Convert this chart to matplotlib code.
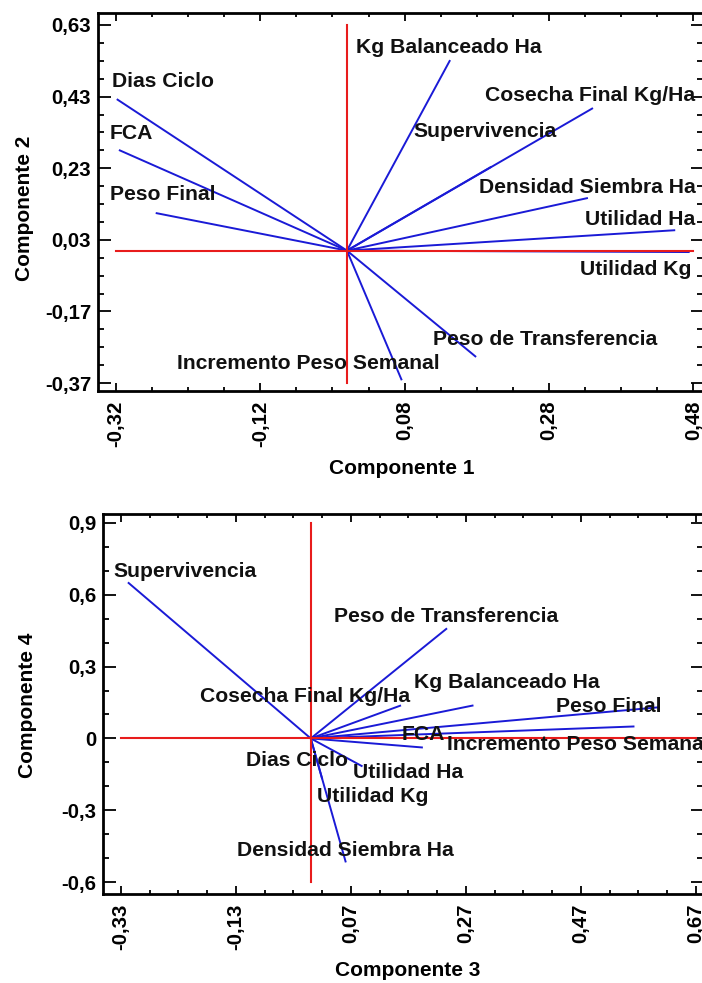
import matplotlib
matplotlib.use("Agg")
import matplotlib.pyplot as plt
from matplotlib.ticker import FixedLocator, FuncFormatter
import numpy as np

# ---------------- data ----------------
variables = ["Dias Ciclo", "FCA", "Peso Final", "Kg Balanceado Ha",
             "Cosecha Final Kg/Ha", "Supervivencia", "Densidad Siembra Ha",
             "Utilidad Ha", "Utilidad Kg", "Peso de Transferencia",
             "Incremento Peso Semanal"]
comp1 = [-0.319, -0.316, -0.265, 0.143, 0.341, 0.200, 0.334, 0.455, 0.475, 0.179, 0.076]
comp2 = [0.423, 0.281, 0.105, 0.532, 0.398, 0.234, 0.147, 0.057, -0.004, -0.297, -0.362]
comp3 = [0.000, 0.195, 0.605, 0.283, 0.157, -0.318, 0.061, 0.090, 0.020, 0.237, 0.563]
comp4 = [-0.050, -0.038, 0.130, 0.138, 0.138, 0.652, -0.518, -0.117, -0.170, 0.460, 0.050]

xticks_top = [-0.32, -0.12, 0.08, 0.28, 0.48]
yticks_top = [-0.37, -0.17, 0.03, 0.23, 0.43, 0.63]
xticks_bot = [-0.33, -0.13, 0.07, 0.27, 0.47, 0.67]
yticks_bot = [-0.6, -0.3, 0.0, 0.3, 0.6, 0.9]

# ---------------- label layout (x, y, ha) ----------------
labels_top = {
    "Dias Ciclo": (-0.325, 0.473, "left"),
    "FCA": (-0.329, 0.328, "left"),
    "Peso Final": (-0.329, 0.158, "left"),
    "Kg Balanceado Ha": (0.141, 0.566, "center"),
    "Cosecha Final Kg/Ha": (0.483, 0.432, "right"),
    "Supervivencia": (0.191, 0.334, "center"),
    "Densidad Siembra Ha": (0.483, 0.175, "right"),
    "Utilidad Ha": (0.483, 0.088, "right"),
    "Utilidad Kg": (0.478, -0.054, "right"),
    "Peso de Transferencia": (0.275, -0.247, "center"),
    "Incremento Peso Semanal": (-0.054, -0.314, "center"),
}
labels_bot = {
    "Supervivencia": (-0.344, 0.698, "left"),
    "Peso de Transferencia": (0.235, 0.510, "center"),
    "Kg Balanceado Ha": (0.341, 0.234, "center"),
    "Cosecha Final Kg/Ha": (-0.010, 0.176, "center"),
    "Peso Final": (0.518, 0.134, "center"),
    "FCA": (0.195, 0.017, "center"),
    "Incremento Peso Semanal": (0.237, -0.025, "left"),
    "Dias Ciclo": (-0.024, -0.092, "center"),
    "Utilidad Ha": (0.169, -0.142, "center"),
    "Utilidad Kg": (0.108, -0.242, "center"),
    "Densidad Siembra Ha": (0.061, -0.468, "center"),
}

plt.rcParams['font.family'] = ['Liberation Sans', 'DejaVu Sans']
plt.rcParams['font.weight'] = 'bold'

BLUE = '#1a1ad6'
RED = '#e81c1c'
LABEL_FS = 15.2
TICK_FS = 14.7
AXLAB_FS = 15

fig = plt.figure(figsize=(7.02, 9.83), dpi=100)
W, H = 702.0, 983.0


def make_axes(px_left, px_top, px_right, px_bottom):
    return fig.add_axes([px_left / W, 1 - px_bottom / H,
                         (px_right - px_left) / W, (px_bottom - px_top) / H])


def comma(v, pos=None):
    if abs(v) < 1e-9:
        return "0"
    s = f"{v:.2f}" if abs(v * 10 - round(v * 10)) > 1e-6 else f"{v:.1f}"
    return s.replace('.', ',')


def style(ax, xt, yt, xminor, yminor, xlim, ylim, xlab, ylab, ylabpos, xlabpos):
    ax.set_xlim(*xlim)
    ax.set_ylim(*ylim)
    ax.xaxis.set_major_locator(FixedLocator(xt))
    ax.yaxis.set_major_locator(FixedLocator(yt))
    xm = np.arange(xt[0] - 4 * xminor, xt[-1] + 4 * xminor, xminor)
    ym = np.arange(yt[0] - 4 * yminor, yt[-1] + 4 * yminor, yminor)
    ax.xaxis.set_minor_locator(FixedLocator(xm))
    ax.yaxis.set_minor_locator(FixedLocator(ym))
    ax.xaxis.set_major_formatter(FuncFormatter(comma))
    ax.yaxis.set_major_formatter(FuncFormatter(comma))
    ax.tick_params(axis='both', which='both', direction='in', top=True, right=True,
                   color='black', width=1.3)
    ax.tick_params(axis='x', which='major', length=5.5, pad=7)
    ax.tick_params(axis='x', which='minor', length=3)
    ax.tick_params(axis='y', which='major', length=9, pad=5)
    ax.tick_params(axis='y', which='minor', length=4.5)
    for lab in ax.get_xticklabels():
        lab.set_rotation(90)
        lab.set_fontsize(TICK_FS)
        lab.set_fontweight('bold')
    for lab in ax.get_yticklabels():
        lab.set_fontsize(TICK_FS)
        lab.set_fontweight('bold')
    for s in ax.spines.values():
        s.set_linewidth(2)
        s.set_color('black')
    ax.set_xlabel(xlab, fontsize=AXLAB_FS, fontweight='bold', va='center')
    ax.set_ylabel(ylab, fontsize=AXLAB_FS, fontweight='bold', va='center')
    ax.xaxis.set_label_coords(*xlabpos)
    ax.yaxis.set_label_coords(*ylabpos)


def biplot(ax, xs, ys, xt, yt, labels):
    for v, x, y in zip(variables, xs, ys):
        ax.plot([0, x], [0, y], color=BLUE, lw=1.4, solid_capstyle='butt', zorder=2)
    ax.plot([xt[0], xt[-1]], [0, 0], color=RED, lw=1.5, zorder=3)
    ax.plot([0, 0], [yt[0], yt[-1]], color=RED, lw=1.5, zorder=3)
    for v in variables:
        lx, ly, ha = labels[v]
        ax.text(lx, ly, v, ha=ha, va='center', fontsize=LABEL_FS, fontweight='bold',
                color='#111111', zorder=4, clip_on=False)


ax1 = make_axes(98, 13, 703, 391)
biplot(ax1, comp1, comp2, xticks_top, yticks_top, labels_top)
style(ax1, xticks_top, yticks_top, 0.05, 0.05, (-0.345, 0.4935), (-0.392, 0.6635),
      "Componente 1", "Componente 2", ((25 - 98) / 605, (391 - 208) / 378),
      ((402 - 98) / 605, -(468 - 391) / 378))

ax2 = make_axes(103, 514, 703, 894)
biplot(ax2, comp3, comp4, xticks_bot, yticks_bot, labels_bot)
style(ax2, xticks_bot, yticks_bot, 0.05, 0.1, (-0.3613, 0.6822), (-0.650, 0.9376),
      "Componente 3", "Componente 4", ((28 - 103) / 600, (894 - 705) / 380),
      ((408 - 103) / 600, -(970 - 894) / 380))

fig.savefig("out.png", dpi=100)
